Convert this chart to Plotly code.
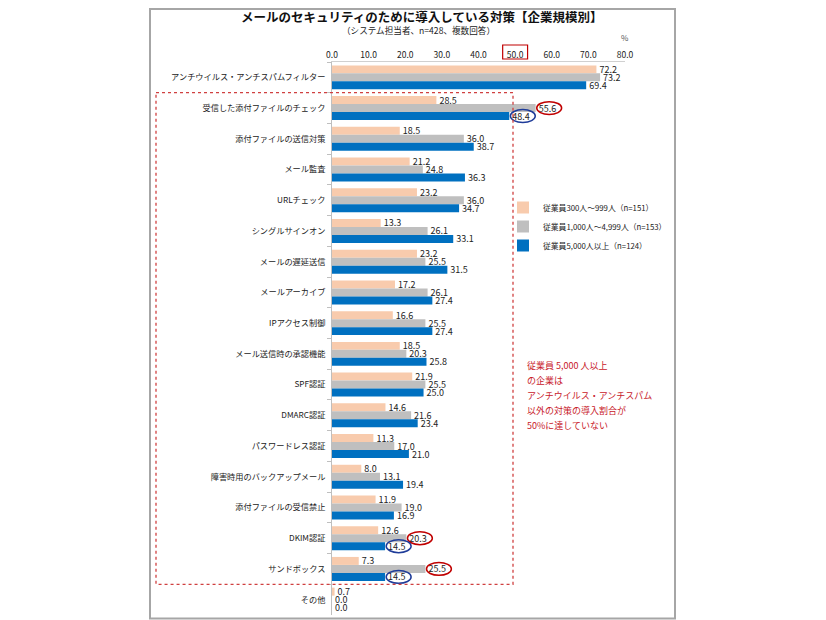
import plotly.graph_objects as go

categories = [
    "アンチウイルス・アンチスパムフィルター",
    "受信した添付ファイルのチェック",
    "添付ファイルの送信対策",
    "メール監査",
    "URLチェック",
    "シングルサインオン",
    "メールの遅延送信",
    "メールアーカイブ",
    "IPアクセス制御",
    "メール送信時の承認機能",
    "SPF認証",
    "DMARC認証",
    "パスワードレス認証",
    "障害時用のバックアップメール",
    "添付ファイルの受信禁止",
    "DKIM認証",
    "サンドボックス",
    "その他",
]
series_names = [
    "従業員300人～999人（n=151）",
    "従業員1,000人～4,999人（n=153）",
    "従業員5,000人以上（n=124）",
]
small = [72.2, 28.5, 18.5, 21.2, 23.2, 13.3, 23.2, 17.2, 16.6, 18.5, 21.9, 14.6, 11.3, 8.0, 11.9, 12.6, 7.3, 0.7]
mid = [73.2, 55.6, 36.0, 24.8, 36.0, 26.1, 25.5, 26.1, 25.5, 20.3, 25.5, 21.6, 17.0, 13.1, 19.0, 20.3, 25.5, 0.0]
large = [69.4, 48.4, 38.7, 36.3, 34.7, 33.1, 31.5, 27.4, 27.4, 25.8, 25.0, 23.4, 21.0, 19.4, 16.9, 14.5, 14.5, 0.0]
colors = ["#F8CBAD", "#BFBFBF", "#0070C0"]
x_ticks = [0, 10, 20, 30, 40, 50, 60, 70, 80]
note_lines = ["従業員 5,000 人以上", "の企業は", "アンチウイルス・アンチスパム", "以外の対策の導入割合が", "50%に達していない"]

# highlighted labels: (category index, series index, colour)
highlights = [(1, 1, "#C00000"), (1, 2, "#1F3C99"), (15, 1, "#C00000"), (15, 2, "#1F3C99"),
              (16, 1, "#C00000"), (16, 2, "#1F3C99")]

OFF = 8  # page body margin
W, H = 826 - OFF, 620 - OFF
L, R, T, B = 332 - OFF, 201, 62 - OFF, 5
pw, ph = W - L - R, H - T - B

def px(x):
    return (x - OFF - L) / pw

def py(y):
    return (H - B - (y - OFF)) / ph

FONT = "Noto Sans CJK JP"
fig = go.Figure()
for name, vals, c in zip(series_names, [small, mid, large], colors):
    fig.add_trace(go.Bar(
        y=categories, x=vals, name=name, orientation="h", marker=dict(color=c, line=dict(width=0)),
        text=[f"{v:.1f}" for v in vals], textposition="outside", constraintext="none",
        textfont=dict(size=9, color="#222", family=FONT), cliponaxis=False,
    ))

bargap = 0.22
bw = (1 - bargap) / 3
shapes = []
for ci, si, col in highlights:
    v = [small, mid, large][si][ci]
    yc = ci + (si - 1) * bw
    shapes.append(dict(type="circle", xref="x", yref="y",
                       x0=v + 0.3, x1=v + 7.1, y0=yc - 0.21, y1=yc + 0.21,
                       line=dict(color=col, width=1.5)))
# red box around 50.0 tick
shapes.append(dict(type="rect", xref="x", yref="paper", x0=x_ticks[5] - 3.4, x1=x_ticks[5] + 3.4,
                   y0=py(59), y1=py(45), line=dict(color="#C00000", width=1.2)))
# dotted red rectangle
shapes.append(dict(type="rect", xref="paper", yref="y", x0=px(156), x1=px(513), y0=0.5, y1=16.5,
                   line=dict(color="#D04040", width=1.3, dash="dot")))
# outer frame
shapes.append(dict(type="rect", xref="paper", yref="paper", x0=px(150), x1=px(675), y0=py(618.5), y1=py(9),
                   line=dict(color="#A6A6A6", width=2)))

annotations = [
    dict(text="<b>メールのセキュリティのために導入している対策【企業規模別】</b>", x=px(421), y=py(16),
         xref="paper", yref="paper", xanchor="center", yanchor="middle", showarrow=False,
         font=dict(size=12.5, color="#111", family=FONT)),
    dict(text="（システム担当者、n=428、複数回答）", x=px(418), y=py(30), xref="paper", yref="paper",
         xanchor="center", yanchor="middle", showarrow=False, font=dict(size=8.6, color="#222", family=FONT)),
    dict(text="%", x=px(625), y=py(38), xref="paper", yref="paper", xanchor="center", yanchor="middle",
         showarrow=False, font=dict(size=8, color="#555", family=FONT)),
]
for i, line in enumerate(note_lines):
    annotations.append(dict(text=line, x=px(525), y=py(365 + 15 * i), xref="paper", yref="paper",
                            xanchor="left", yanchor="middle", showarrow=False,
                            font=dict(size=9, color="#C8202A", family=FONT)))

fig.update_layout(
    width=W, height=H, margin=dict(l=L, r=R, t=T, b=B, autoexpand=False),
    paper_bgcolor="white", plot_bgcolor="white",
    barmode="group", bargap=bargap, bargroupgap=0,
    font=dict(family=FONT, size=8, color="#222"),
    shapes=shapes, annotations=annotations, showlegend=True,
    legend=dict(x=px(503), y=py(193), xanchor="left", yanchor="top", font=dict(size=7.8, family=FONT),
                bgcolor="rgba(0,0,0,0)", itemwidth=30, tracegroupgap=0),
    xaxis=dict(side="top", range=[0, 80], tickvals=x_ticks, ticktext=[f"{t:.1f}" for t in x_ticks],
               showgrid=False, zeroline=False, showline=True, linecolor="#D0D0D0", ticks="",
               tickfont=dict(size=8.5, color="#222")),
    yaxis=dict(type="category", autorange="reversed", showline=True, linecolor="#BFBFBF",
               ticks="outside", tickson="boundaries", ticklen=4, tickcolor="#BFBFBF",
               ticklabelstandoff=4, tickfont=dict(size=8.2, color="#222"), showgrid=False),
)
fig.write_html("out.html")
